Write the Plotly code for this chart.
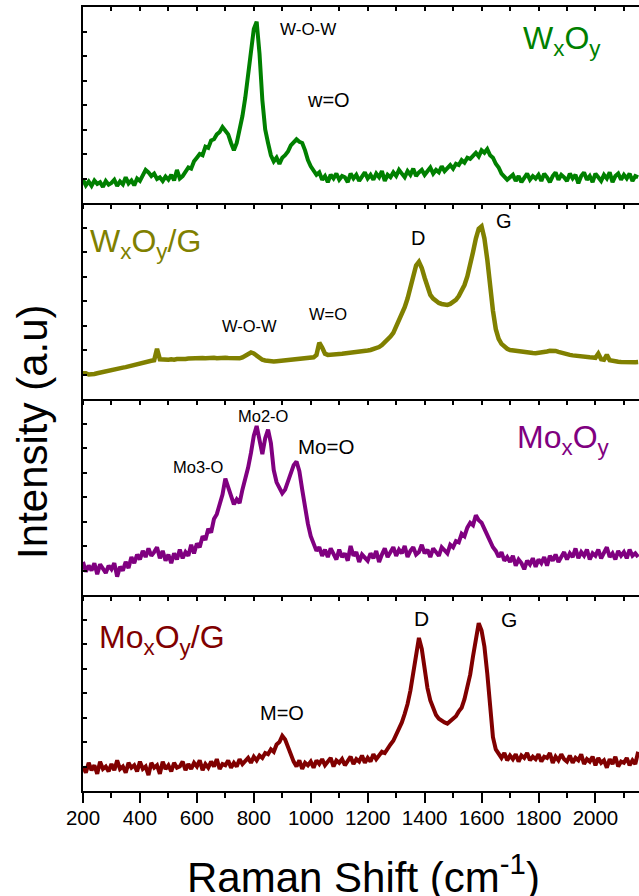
import plotly.graph_objects as go

# Raman shift grid (cm-1)
shift = list(range(200, 2151, 10))

# Intensities (a.u., each panel scaled 0..8)
wxoy = [
    0.95, 0.72, 0.88, 0.70, 0.92, 0.78, 0.85, 0.66, 0.90, 0.75,
    0.82, 0.95, 0.70, 0.88, 0.76, 1.05, 0.80, 0.92, 0.72, 1.00,
    0.90, 1.15, 1.35, 1.25, 1.10, 1.20, 0.98, 1.05, 0.90, 1.08,
    0.95, 1.15, 0.92, 1.35, 1.00, 1.10, 1.25, 1.45, 1.40, 1.70,
    1.85, 2.00, 1.95, 2.30, 2.25, 2.55, 2.60, 2.80, 2.90, 3.10,
    2.95, 2.80, 2.45, 2.15, 2.45, 2.95, 3.55, 4.30, 5.20, 6.30,
    7.10, 7.40, 6.10, 4.20, 3.00, 2.45, 1.95, 1.70, 1.85, 1.60,
    1.85, 1.95, 2.10, 2.35, 2.45, 2.60, 2.50, 2.45, 2.15, 1.75,
    1.50, 1.30, 1.15, 1.25, 0.95, 1.10, 0.85, 1.15, 1.00, 1.20,
    0.95, 1.10, 1.05, 0.85, 1.20, 1.00, 1.15, 0.90, 1.10, 1.25,
    1.00, 1.15, 0.95, 1.20, 1.05, 1.30, 0.90, 1.15, 1.05, 1.25,
    1.10, 1.35, 1.20, 1.05, 1.30, 1.15, 1.40, 1.10, 1.25, 1.35,
    1.15, 1.30, 1.45, 1.20, 1.35, 1.25, 1.50, 1.30, 1.45, 1.55,
    1.40, 1.60, 1.55, 1.75, 1.65, 1.85, 1.80, 1.95, 2.05, 1.90,
    2.15, 2.05, 2.20, 1.95, 1.85, 1.60, 1.45, 1.20, 1.10, 0.95,
    1.05, 1.15, 0.90, 1.10, 0.85, 1.05, 1.20, 0.95, 1.10, 1.00,
    1.15, 0.90, 1.20, 1.05, 0.85, 1.10, 1.25, 0.95, 1.15, 1.05,
    0.90, 1.20, 1.00, 1.15, 0.80, 1.10, 1.25, 0.95, 1.10, 0.85,
    1.20, 1.05, 0.90, 1.15, 1.00, 1.25, 0.85, 1.10, 1.20, 0.95,
    1.15, 1.00, 1.20, 0.90, 1.10, 1.05,
]

wxoy_g = [
    1.05, 1.05, 1.00, 1.00, 1.02, 1.05, 1.08, 1.10, 1.12, 1.15,
    1.18, 1.20, 1.22, 1.25, 1.28, 1.30, 1.33, 1.36, 1.40, 1.45,
    1.48, 1.50, 1.52, 1.55, 1.56, 1.58, 2.05, 1.62, 1.60, 1.60,
    1.60, 1.62, 1.60, 1.63, 1.62, 1.64, 1.63, 1.65, 1.66, 1.65,
    1.66, 1.65, 1.67, 1.66, 1.68, 1.67, 1.68, 1.66, 1.68, 1.67,
    1.68, 1.67, 1.66, 1.65, 1.64, 1.66, 1.70, 1.76, 1.84, 1.90,
    1.86, 1.76, 1.66, 1.60, 1.57, 1.55, 1.54, 1.53, 1.54, 1.55,
    1.56, 1.57, 1.58, 1.60, 1.62, 1.63, 1.62, 1.64, 1.65, 1.64,
    1.66, 1.70, 1.80, 2.30, 2.10, 1.85, 1.80, 1.82, 1.84, 1.83,
    1.84, 1.85, 1.86, 1.87, 1.88, 1.89, 1.90, 1.92, 1.94, 1.96,
    1.98, 2.00, 2.03, 2.07, 2.12, 2.20, 2.30, 2.42, 2.55, 2.70,
    2.95, 3.20, 3.45, 3.75, 4.10, 4.55, 5.00, 5.45, 5.60, 5.35,
    4.95, 4.55, 4.25, 4.10, 4.00, 3.92, 3.88, 3.85, 3.84, 3.88,
    3.95, 4.05, 4.20, 4.40, 4.65, 5.00, 5.45, 6.00, 6.55, 6.95,
    7.05, 6.55, 5.70, 4.60, 3.60, 2.85, 2.45, 2.25, 2.12, 2.05,
    2.00, 1.98, 1.96, 1.94, 1.92, 1.90, 1.89, 1.88, 1.88, 1.87,
    1.88, 1.90, 1.92, 1.94, 1.97, 1.98, 1.96, 1.92, 1.88, 1.85,
    1.82, 1.80, 1.78, 1.76, 1.74, 1.72, 1.71, 1.70, 1.70, 1.69,
    1.68, 1.85, 1.62, 1.60, 1.80, 1.58, 1.55, 1.54, 1.52, 1.51,
    1.50, 1.50, 1.49, 1.50, 1.50, 1.51,
]

moxoy = [
    1.35, 0.95, 1.20, 1.00, 1.30, 0.85, 1.25, 1.05, 0.90, 1.20,
    1.05, 1.30, 0.75, 1.15, 1.00, 1.35, 1.10, 1.55, 1.30, 1.65,
    1.45, 1.80, 1.55, 1.90, 1.60, 1.75, 1.95, 1.50, 1.80, 1.40,
    1.65, 1.30, 1.70, 1.45, 1.85, 1.50, 1.75, 1.60, 2.05, 1.70,
    2.10, 1.95, 2.40, 2.25, 2.70, 2.55, 3.10, 3.30, 3.70, 4.10,
    4.75, 4.40, 4.10, 3.70, 3.90, 3.75, 4.30, 4.70, 5.20, 5.80,
    6.50, 6.90, 6.30, 5.75, 6.40, 6.75, 6.20, 5.10, 4.60, 4.35,
    4.15, 4.30, 4.60, 4.95, 5.30, 5.45, 5.05, 4.30, 3.50, 2.90,
    2.40, 2.05, 1.80, 1.95, 1.60, 1.85, 1.55, 1.90, 1.70, 1.45,
    1.85, 1.55, 1.70, 1.40, 2.00, 1.60, 1.75, 1.35, 1.65, 1.55,
    1.40, 1.70, 1.50, 1.80, 1.35, 1.65, 1.90, 1.55, 1.75, 1.95,
    1.60, 1.85, 1.70, 2.00, 1.55, 1.80, 1.95, 1.65, 1.75, 2.05,
    1.70, 1.85, 1.55, 1.90, 1.75, 1.60, 1.95, 1.80, 1.70, 2.05,
    1.95, 2.20, 2.15, 2.50, 2.40, 2.75, 2.95, 2.85, 3.25, 3.05,
    2.95, 2.70, 2.40, 2.20, 1.95, 1.80, 1.55, 1.75, 1.40, 1.55,
    1.35, 1.60, 1.20, 1.45, 1.30, 1.05, 1.40, 1.25, 1.50, 1.15,
    1.45, 1.30, 1.55, 1.20, 1.60, 1.40, 1.65, 1.35, 1.55, 1.75,
    1.45, 1.70, 1.55, 1.90, 1.50, 1.75, 1.60, 1.85, 1.45, 1.70,
    1.60, 1.85, 1.50, 1.75, 1.95, 1.55, 1.70, 1.45, 1.80, 1.60,
    1.75, 1.50, 1.85, 1.60, 1.70, 1.55,
]

moxoy_g = [
    1.00, 0.75, 1.15, 0.85, 1.05, 0.70, 1.20, 0.90, 1.00, 0.80,
    1.10, 0.85, 1.25, 0.90, 1.00, 0.75, 1.15, 0.95, 1.05, 0.80,
    1.20, 0.90, 1.00, 0.65, 1.15, 0.95, 1.05, 0.70, 1.20, 0.90,
    1.05, 0.80, 1.15, 0.95, 1.00, 1.20, 0.85, 1.10, 0.90, 1.15,
    1.00, 1.25, 0.85, 1.10, 0.95, 1.20, 1.00, 1.30, 0.90, 1.10,
    1.05, 1.25, 0.95, 1.15, 1.00, 1.30, 1.10, 1.20, 1.35, 1.15,
    1.40, 1.25, 1.45, 1.35, 1.55, 1.50, 1.70, 1.60, 1.90, 2.00,
    2.25, 2.10, 1.80, 1.40, 1.20, 1.00, 1.25, 0.90, 1.15, 1.05,
    1.20, 0.95, 1.25, 1.10, 1.30, 1.05, 1.20, 1.35, 1.00, 1.25,
    1.15, 1.30, 1.05, 1.25, 1.40, 1.10, 1.30, 1.20, 1.45, 1.15,
    1.35, 1.20, 1.50, 1.30, 1.45, 1.60, 1.55, 1.75, 1.90, 2.05,
    2.30, 2.50, 2.80, 3.15, 3.55, 4.10, 4.80, 5.60, 6.25, 5.80,
    4.90, 4.20, 3.70, 3.35, 3.10, 2.95, 2.85, 2.80, 2.75, 2.85,
    2.95, 3.05, 3.25, 3.40, 3.75, 4.20, 4.75, 5.50, 6.30, 6.85,
    6.55, 5.90, 4.80, 3.30, 2.20, 1.70, 1.50, 1.35, 1.55, 1.25,
    1.45, 1.30, 1.50, 1.20, 1.45, 1.35, 1.55, 1.25, 1.40, 1.30,
    1.50, 1.20, 1.40, 1.35, 1.55, 1.15, 1.40, 1.25, 1.50, 1.30,
    1.20, 1.45, 1.15, 1.35, 1.25, 1.50, 1.10, 1.30, 1.20, 1.40,
    1.05, 1.35, 1.15, 1.25, 0.95, 1.30, 1.10, 1.40, 1.00, 1.20,
    1.15, 1.35, 1.05, 1.25, 1.10, 1.60,
]

series = [
    ("W<sub>x</sub>O<sub>y</sub>", wxoy, "#008000", 4),
    ("W<sub>x</sub>O<sub>y</sub>/G", wxoy_g, "#808000", 4.5),
    ("Mo<sub>x</sub>O<sub>y</sub>", moxoy, "#800080", 4),
    ("Mo<sub>x</sub>O<sub>y</sub>/G", moxoy_g, "#800000", 4),
]

# panel name labels: (x, y) in data units
name_pos = [(1884, 6.62), (420, 6.35), (1888, 6.36), (476, 6.2)]

# peak labels per panel: (text, x, y, size)
peak_labels = [
    [("W-O-W", 989, 7.1, 17), ("w=O", 1062, 4.2, 20)],
    [("W-O-W", 785, 2.97, 16.5), ("W=O", 1059, 3.46, 16.5),
     ("D", 1378, 6.56, 20), ("G", 1680, 7.25, 20)],
    [("Mo3-O", 606, 5.23, 16.5), ("Mo2-O", 834, 7.31, 16.5),
     ("Mo=O", 1052, 6.08, 20.5)],
    [("M=O", 900, 3.2, 20), ("D", 1389, 7.05, 21), ("G", 1695, 7.02, 21)],
]

FONT = "Liberation Sans, Arial, sans-serif"
XR = [200, 2153]
YR = [0, 8]

fig = go.Figure()
annotations = []
for i, (name, vals, color, lw) in enumerate(series):
    k = "" if i == 0 else str(i + 1)
    fig.add_trace(go.Scatter(
        x=shift, y=vals, mode="lines",
        line=dict(color=color, width=lw),
        xaxis="x" + k, yaxis="y" + k, showlegend=False, hoverinfo="skip",
    ))
    nx, ny = name_pos[i]
    annotations.append(dict(
        text=name, x=nx, y=ny, xref="x" + k, yref="y" + k, showarrow=False,
        xanchor="center", yanchor="middle",
        font=dict(family=FONT, size=32, color=color),
    ))
    for t, ax, ay, sz in peak_labels[i]:
        annotations.append(dict(
            text=t, x=ax, y=ay, xref="x" + k, yref="y" + k, showarrow=False,
            xanchor="center", yanchor="middle",
            font=dict(family=FONT, size=sz, color="black"),
        ))

# dummy traces for the extra (tick-only) axes
fig.add_trace(go.Scatter(x=[None], y=[None], xaxis="x5", yaxis="y",
                         showlegend=False, hoverinfo="skip"))
fig.add_trace(go.Scatter(x=[None], y=[None], xaxis="x6", yaxis="y4",
                         showlegend=False, hoverinfo="skip"))

layout = dict(
    width=639, height=896,
    margin=dict(l=83, r=0, t=7, b=105),
    plot_bgcolor="white", paper_bgcolor="white",
    font=dict(family=FONT, color="black"),
    showlegend=False,
)

domains = [[0.75, 1.0], [0.5, 0.75], [0.25, 0.5], [0.0, 0.25]]
for i in range(4):
    k = "" if i == 0 else str(i + 1)
    ax = dict(
        range=XR, showline=True, linewidth=2, linecolor="black",
        showgrid=False, zeroline=False, anchor="y" + k,
    )
    if i < 3:
        ax.update(ticks="outside", ticklen=4, tickwidth=1.5, tickcolor="black",
                  dtick=100, tick0=200, showticklabels=False)
    else:
        # labels (with short ticks hidden under the longer ones of xaxis6)
        ax.update(ticks="outside", ticklen=7, tickwidth=2, tickcolor="black",
                  dtick=200, tick0=200, showticklabels=True,
                  tickfont=dict(family=FONT, size=20.5, color="black"))
    layout["xaxis" + k] = ax
    layout["yaxis" + k] = dict(
        domain=domains[i], range=YR, anchor="x" + k,
        showline=True, linewidth=2, linecolor="black",
        ticks="inside", ticklen=4, tickwidth=1.5, tickcolor="black",
        dtick=1, tick0=0, showticklabels=False,
        showgrid=False, zeroline=False,
    )

layout["xaxis5"] = dict(
    range=XR, overlaying="x", anchor="y", side="top",
    showline=True, linewidth=2, linecolor="black",
    ticks="inside", ticklen=4, tickwidth=1.5, tickcolor="black",
    dtick=100, tick0=200, showticklabels=False,
    showgrid=False, zeroline=False,
)
layout["xaxis6"] = dict(
    range=XR, overlaying="x4", anchor="y4", side="bottom",
    showline=False, ticks="outside", ticklen=11, tickwidth=2,
    tickcolor="black", dtick=200, tick0=200, showticklabels=False,
    minor=dict(ticks="outside", ticklen=6, tickwidth=2,
               tickcolor="black", dtick=100),
    showgrid=False, zeroline=False,
)

annotations.append(dict(
    text="Raman Shift (cm<sup>-1</sup>)", xref="paper", yref="paper",
    x=0.505, y=-0.106, xanchor="center", yanchor="middle", showarrow=False,
    font=dict(family=FONT, size=42, color="black"),
))
annotations.append(dict(
    text="Intensity (a.u)", xref="paper", yref="paper",
    x=-0.09, y=0.458, xanchor="center", yanchor="middle", showarrow=False,
    textangle=-90,
    font=dict(family=FONT, size=42, color="black"),
))
layout["annotations"] = annotations

fig.update_layout(**layout)
fig.write_html("out.html", config={"displayModeBar": False})

# remove default page margin so the figure sits at the window's top-left
with open("out.html", encoding="utf-8") as f:
    html = f.read()
html = html.replace("<body>", '<body style="margin:0;padding:0;overflow:hidden">', 1)
with open("out.html", "w", encoding="utf-8") as f:
    f.write(html)
